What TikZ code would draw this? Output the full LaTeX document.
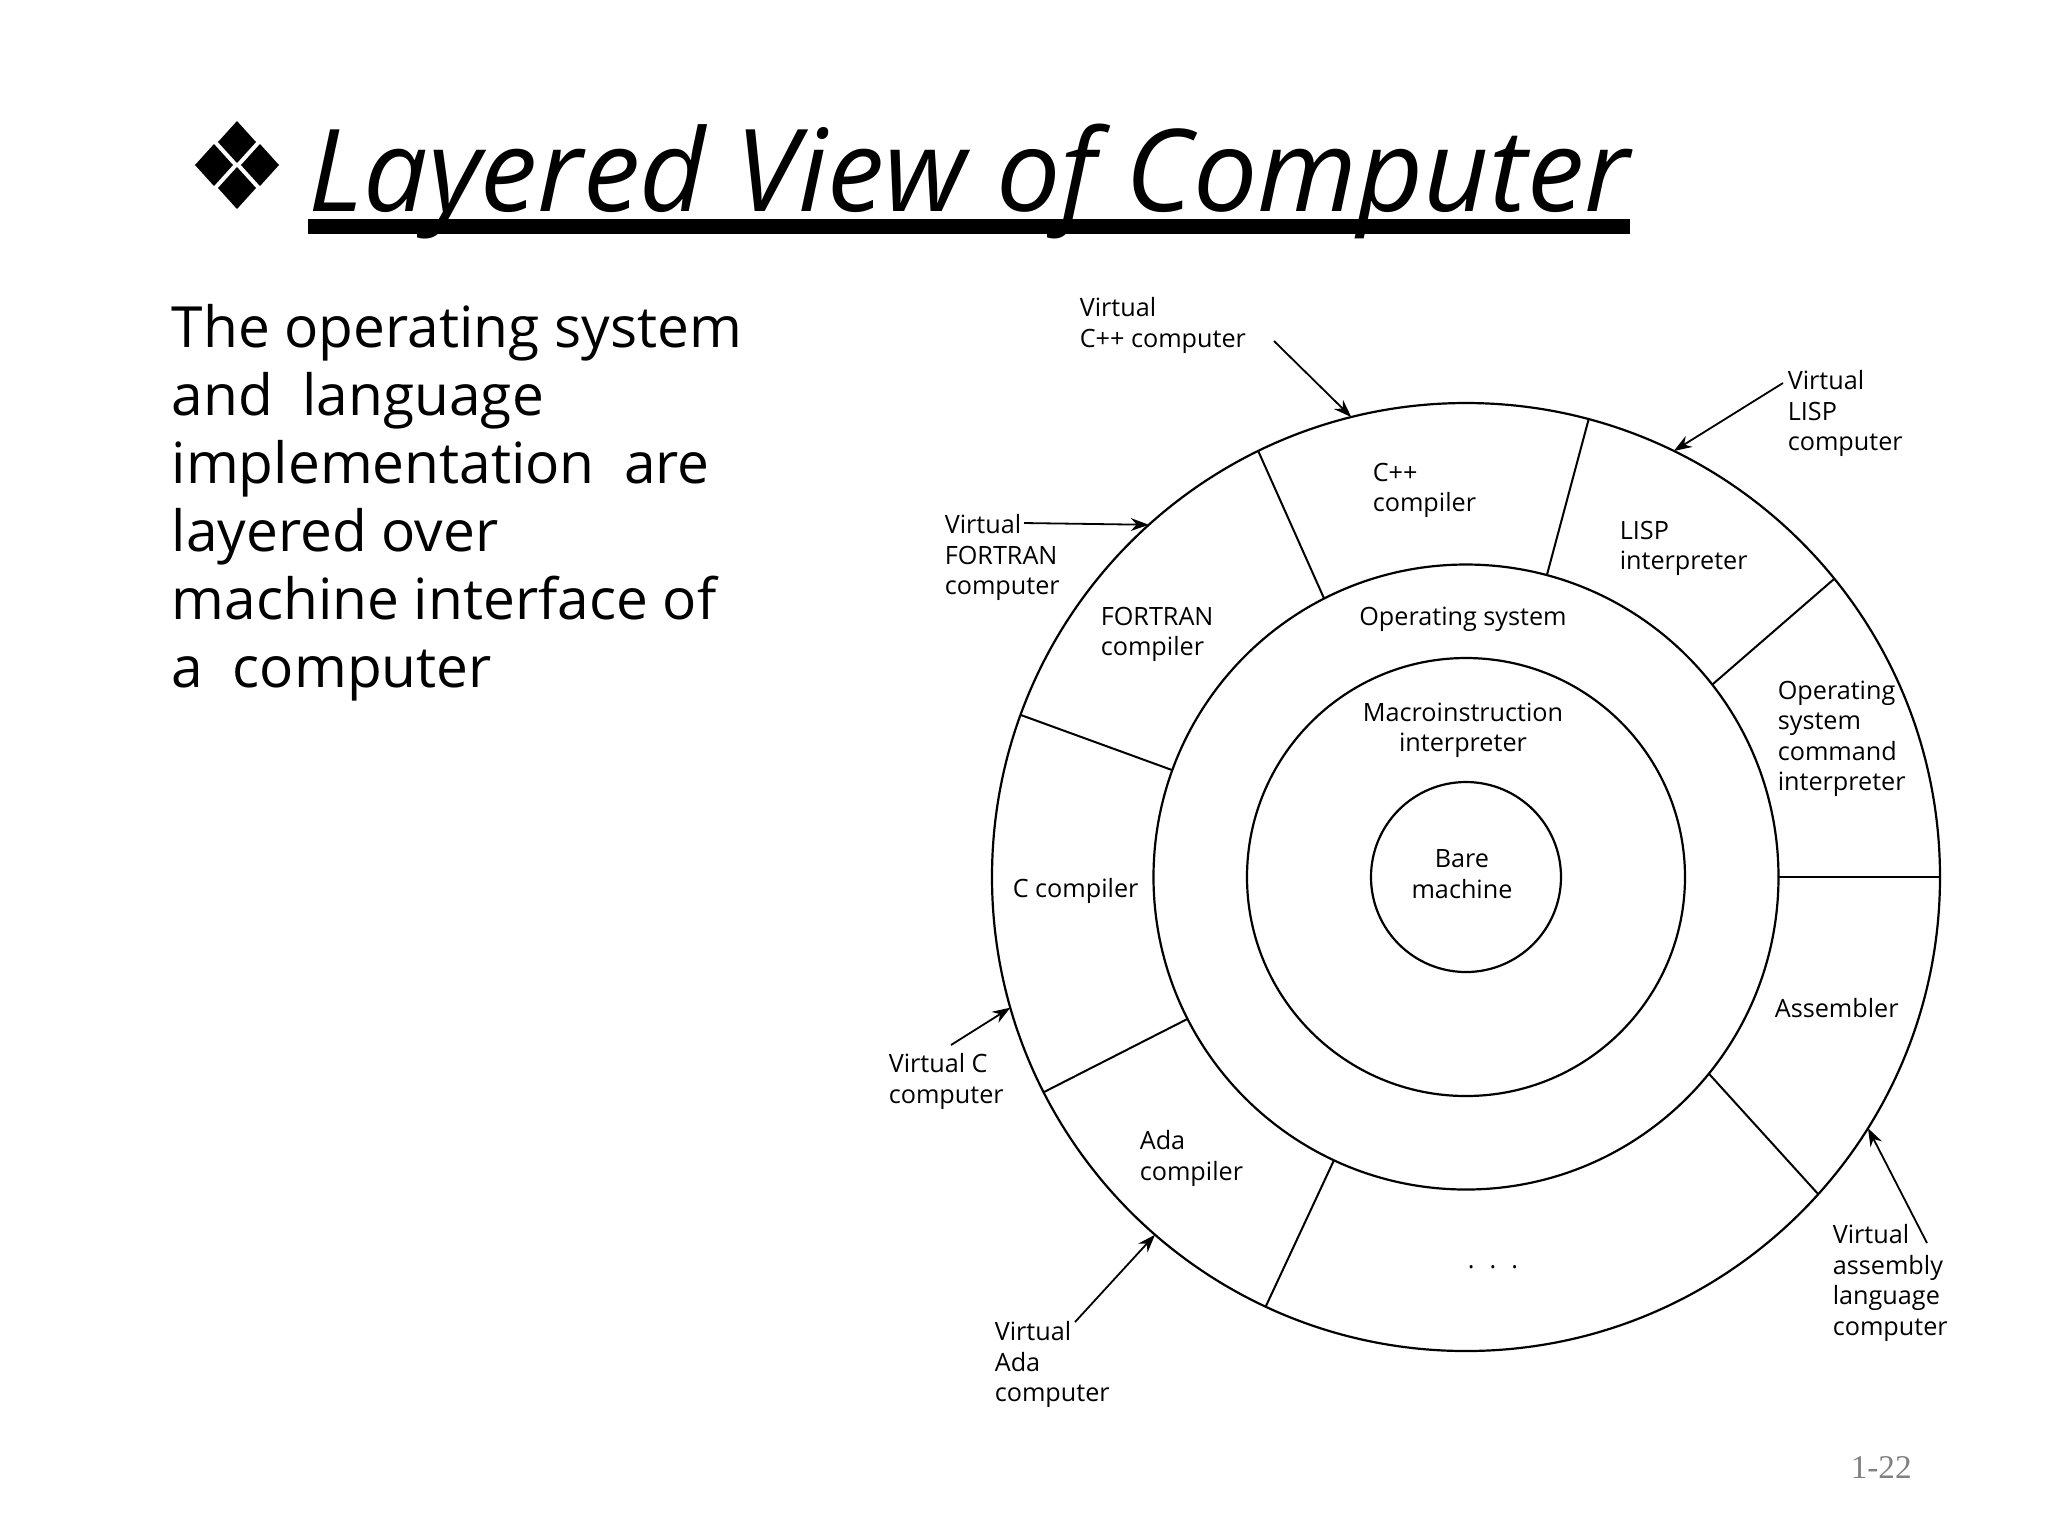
\documentclass[tikz,border=0pt]{standalone}
\usepackage{fontspec}
\setmainfont{Open Sans}
\newfontfamily\numfont{Liberation Serif}
\usetikzlibrary{arrows.meta}
\definecolor{pagegray}{RGB}{128,128,128}
\newcommand{\lblsize}{\fontsize{6.3}{7.6}\selectfont}
\tikzset{
  ring/.style={draw, circle, line width=0.55pt, inner sep=0pt, outer sep=0pt},
  spoke/.style={line width=0.5pt},
  lbl/.style={font=\lblsize, align=left, inner sep=0pt, anchor=north west},
  clbl/.style={font=\lblsize, align=center, inner sep=0pt},
  ptr/.style={-{Stealth[length=4.5pt, width=3.2pt]}, line width=0.45pt},
  headline/.style={font=\fontsize{28.6}{33}\selectfont\itshape, inner sep=0pt, anchor=base west},
  bodytext/.style={font=\fontsize{14.2}{17}\selectfont, align=left, inner sep=0pt, anchor=north west},
}

\begin{document}
\begin{tikzpicture}[x=0.25pt, y=-0.25pt]
  \useasboundingbox (0,0) rectangle (2048,1536);
  % heading
  \foreach \dx/\dy in {0/-23, 0/23, -23/0, 23/0}
    \fill[shift={(237+\dx,165+\dy)}] (0,-21) -- (19,0) -- (0,21) -- (-19,0) -- cycle;
  \node[headline] (title) at (308,211) {Layered View of Computer};
  \draw[line width=3.75pt] ([yshift=-3.9pt]title.base west) -- ([yshift=-3.9pt]title.base east);
  \node[bodytext] (body) at (171,304) {The operating system\\and\ \ language\\implementation\ \ are\\layered over\\machine interface of\\a\ \ computer};

  % rings
  \node[ring, minimum size=237pt] (outer) at (1466,877) {};
  \node[ring, minimum size=156.25pt] (osring) at (1466,877) {};
  \node[ring, minimum size=109.5pt] (macring) at (1466,877) {};
  \node[ring, minimum size=47.5pt] (bare) at (1466,877) {};

  \draw[spoke] (osring.117) -- (outer.116);
  \draw[spoke] (osring.75) -- (outer.75);
  \draw[spoke] (osring.38) -- (outer.39);
  \draw[spoke] (osring.0) -- (outer.0);
  \draw[spoke] (osring.-39) -- (outer.-42);
  \draw[spoke] (osring.-115) -- (outer.-115);
  \draw[spoke] (osring.-153) -- (outer.-153);
  \draw[spoke] (osring.160) -- (outer.160);

  % layer texts
  \node[clbl] (baretxt) at (1462,874) {Bare\\machine};
  \node[clbl] (mactxt) at (1463,730) {Macroinstruction\\interpreter};
  \node[clbl] (ostxt) at (1463,619) {Operating system};
  \node[lbl] (cpp) at (1372,462) {C++\\compiler};
  \node[lbl] (lisp) at (1619,520) {LISP\\interpreter};
  \node[lbl] (fort) at (1100,606) {FORTRAN\\compiler};
  \node[lbl] (oscmd) at (1777,680) {Operating\\system\\command\\interpreter};
  \node[lbl, anchor=west] (ccomp) at (1012,891) {C compiler};
  \node[lbl, anchor=west] (asm) at (1774,1008) {Assembler};
  \node[lbl] (ada) at (1139,1130) {Ada\\compiler};
  \node[clbl] (more) at (1493,1267) {.\hspace{1.6pt} .\hspace{1.6pt} .};

  % virtual computers
  \node[lbl] (vcpp) at (1079,297) {Virtual\\C++ computer};
  \node[lbl] (vlisp) at (1787,370) {Virtual\\LISP\\computer};
  \node[lbl] (vfort) at (944,514) {Virtual\\FORTRAN\\computer};
  \node[lbl] (vc) at (888,1053) {Virtual C\\computer};
  \node[lbl] (vada) at (994,1321) {Virtual\\Ada\\computer};
  \node[lbl] (vasm) at (1832,1224) {Virtual\\assembly\\language\\computer};

  \coordinate (tcpp) at (1274,341);
  \coordinate (tlisp) at (1783,383);
  \coordinate (tfort) at (1024,523);
  \coordinate (tc) at (951,1045);
  \coordinate (tada) at (1075,1322);
  \coordinate (tasm) at (1927,1243);
  \draw[ptr] (tcpp) -- (outer.104);
  \draw[ptr] (tlisp) -- (outer.64);
  \draw[ptr] (tfort) -- (outer.132);
  \draw[ptr] (tc) -- (outer.196);
  \draw[ptr] (tada) -- (outer.229);
  \draw[ptr] (tasm) -- (outer.-32);

  \node[font=\numfont\fontsize{8.3}{10}\selectfont, text=pagegray, anchor=base west, inner sep=0pt] (pnum) at (1850,1478) {1-22};
\end{tikzpicture}
\end{document}
